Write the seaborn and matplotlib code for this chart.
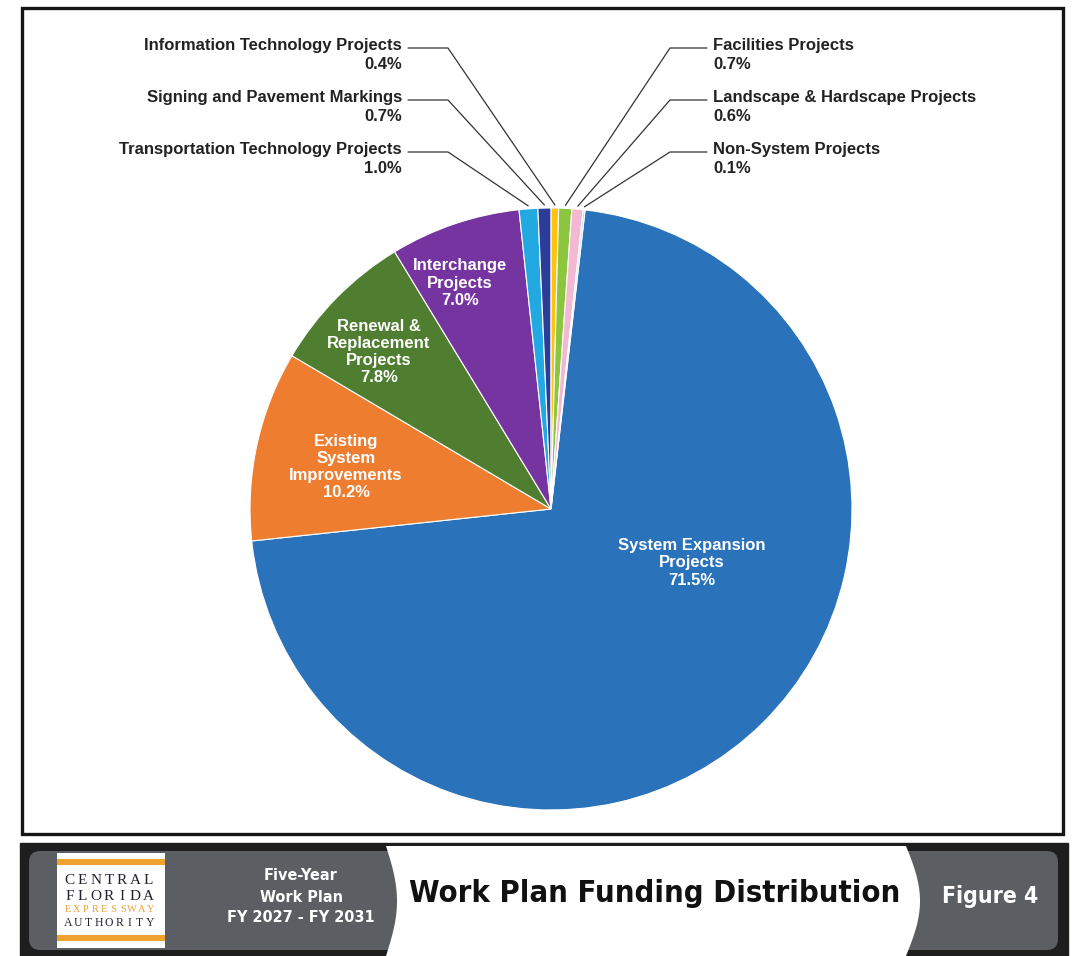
import numpy as np
import seaborn as sns
import matplotlib.pyplot as plt
from matplotlib.patches import Rectangle, FancyBboxPatch, Polygon

# funding shares (%), clockwise from System Expansion
categories = ["System Expansion Projects", "Existing System Improvements",
              "Renewal & Replacement Projects", "Interchange Projects",
              "Transportation Technology Projects", "Signing and Pavement Markings",
              "Information Technology Projects", "Facilities Projects",
              "Landscape & Hardscape Projects", "Non-System Projects"]
shares = [71.5, 10.2, 7.8, 7.0, 1.0, 0.7, 0.4, 0.7, 0.6, 0.1]
colors = ["#2a72b9", "#ee7d2f", "#4f7e31", "#7634a0", "#22a9e1",
          "#2b3d98", "#ffc20e", "#8cc63f", "#f3b9d2", "#bcd9f0"]

# labels drawn inside the big slices
inner_labels = ["System Expansion\nProjects\n71.5%",
                "Existing\nSystem\nImprovements\n10.2%",
                "Renewal &\nReplacement\nProjects\n7.8%",
                "Interchange\nProjects\n7.0%"]
# callout labels for the thin slices (left side, then right side)
left_callouts = ["Information Technology Projects\n0.4%",
                 "Signing and Pavement Markings\n0.7%",
                 "Transportation Technology Projects\n1.0%"]
left_idx = [6, 5, 4]
right_callouts = ["Facilities Projects\n0.7%",
                  "Landscape & Hardscape Projects\n0.6%",
                  "Non-System Projects\n0.1%"]
right_idx = [7, 8, 9]

sns.set_style("white")
plt.rcParams['font.family'] = ['Liberation Sans', 'DejaVu Sans']

W, H = 1073, 956
fig = plt.figure(figsize=(W / 100, H / 100), dpi=100)
ax = fig.add_axes([0, 0, 1, 1])

cx, cy, R = 551, H - 509, 301
wedges, _ = ax.pie(shares, colors=colors, startangle=83.5, counterclock=False,
                   center=(cx, cy), radius=R,
                   wedgeprops=dict(edgecolor="white", linewidth=0.8))
ax.set_xlim(0, W)
ax.set_ylim(0, H)
ax.set_aspect("equal")
ax.axis("off")

# frame around chart
ax.add_patch(Rectangle((22, H - 834), 1041, 826, fill=False, lw=2.4, ec="#151515"))

# inner labels
inner_pos = [(692, 563), (346, 467), (379, 352), (460, 283)]
for txt, (x, y) in zip(inner_labels, inner_pos):
    ax.text(x, H - y, txt, ha="center", va="center", color="white",
            fontsize=12, fontweight="bold", linespacing=1.17)


def edge_point(w):
    a = np.deg2rad((w.theta1 + w.theta2) / 2)
    return cx + 1.01 * R * np.cos(a), cy + 1.01 * R * np.sin(a)


label_rows = [48, 100, 152]
for txt, i, y in zip(left_callouts, left_idx, label_rows):
    ax.text(402, H - y + 10, txt, ha="right", va="top", fontsize=12,
            fontweight="bold", color="#222222", linespacing=1.3, multialignment="right")
    px, py = edge_point(wedges[i])
    ax.plot([408, 448, px], [H - y, H - y, py], color="#333333", lw=0.9)

for txt, i, y in zip(right_callouts, right_idx, label_rows):
    ax.text(713, H - y + 10, txt, ha="left", va="top", fontsize=12,
            fontweight="bold", color="#222222", linespacing=1.3)
    px, py = edge_point(wedges[i])
    ax.plot([707, 670, px], [H - y, H - y, py], color="#333333", lw=0.9)

# ---- footer banner ----
ax.add_patch(Rectangle((20, 0), 1048, H - 843, color="#1e1e1e", zorder=1))
ax.add_patch(FancyBboxPatch((29, H - 950), 1029, 99,
                            boxstyle="round,pad=0,rounding_size=11",
                            fc="#5b5e62", ec="none", zorder=2))
t = np.linspace(0, 1, 40)
yy = (H - 846) - t * (H - 846)
left_edge = 386 + 11 * np.sin(np.pi * t)
right_edge = 906 + 14 * np.sin(np.pi * t)
white_shape = np.vstack([np.column_stack([left_edge, yy]),
                         np.column_stack([right_edge, yy])[::-1]])
ax.add_patch(Polygon(white_shape, closed=True, fc="white", ec="none", zorder=3))

cond = dict(family=['DejaVu Sans'], fontstretch='condensed', fontweight='bold')
title = ax.text(655, H - 894, "Work Plan Funding Distribution", ha="center", va="center",
                fontsize=30, color="#111111", zorder=4, **cond)
plan = ax.text(301, H - 897, "Five-Year\nWork Plan\nFY 2027 - FY 2031", ha="center",
               va="center", fontsize=18, color="white", linespacing=1.5, zorder=4, **cond)
figlab = ax.text(990, H - 897, "Figure 4", ha="center", va="center", fontsize=19,
                 color="white", zorder=4, **cond)

# shrink the footer texts to the widths they take in the banner
renderer = fig.canvas.get_renderer()
for txt, target in [(title, 490), (plan, 148), (figlab, 96)]:
    width = txt.get_window_extent(renderer).width
    if width > target:
        txt.set_fontsize(txt.get_fontsize() * target / width)

# logo
ax.add_patch(Rectangle((57, H - 948), 108, 95, fc="white", ec="none", zorder=4))
ax.add_patch(Rectangle((57, H - 865), 108, 6, fc="#f0a230", ec="none", zorder=5))
ax.add_patch(Rectangle((57, H - 941), 108, 6, fc="#f0a230", ec="none", zorder=5))
logo_lines = [("CENTRAL", 880, 11, "#222233"), ("FLORIDA", 896, 11, "#222233"),
              ("EXPRESSWAY", 910, 7.5, "#e8a33a"), ("AUTHORITY", 923, 8.5, "#222233")]
for word, y, fs, col in logo_lines:
    n = len(word)
    xs = 63 + (np.arange(n) + 0.5) * (92 / n)
    for ch, x in zip(word, xs):
        ax.text(x, H - y, ch, ha="center", va="center", fontsize=fs,
                family=['Liberation Serif', 'DejaVu Serif'], color=col, zorder=6)

fig.savefig("out.png", dpi=100, facecolor="white")
